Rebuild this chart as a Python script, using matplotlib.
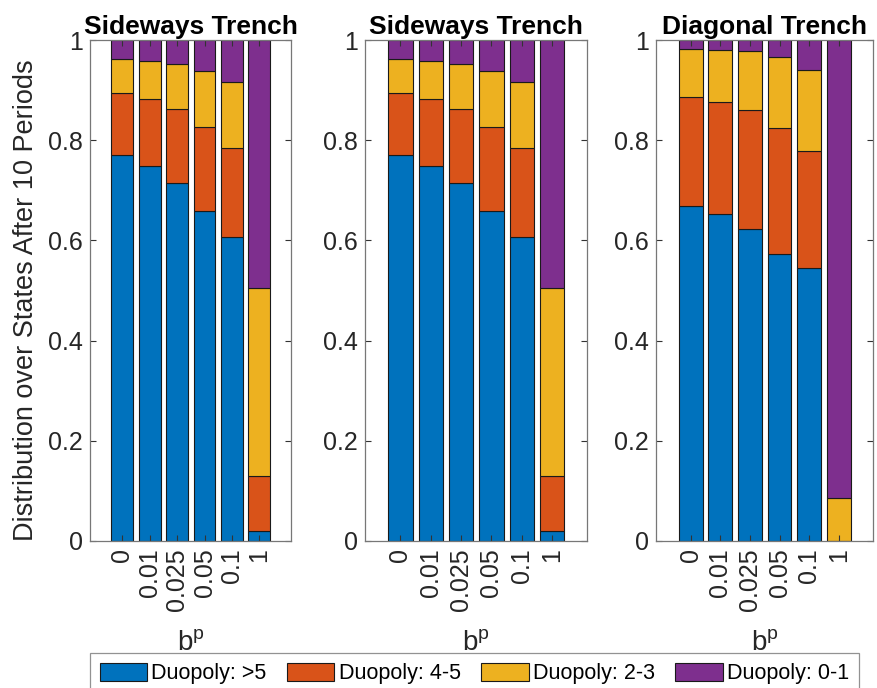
import matplotlib
matplotlib.use("Agg")
import matplotlib.pyplot as plt
import numpy as np

plt.rcParams['font.family'] = ['Liberation Sans', 'DejaVu Sans']

bp_labels = ['0', '0.01', '0.025', '0.05', '0.1', '1']
titles = ['Sideways Trench', 'Sideways Trench', 'Diagonal Trench']
series_names = ['Duopoly: >5', 'Duopoly: 4-5', 'Duopoly: 2-3', 'Duopoly: 0-1']
colors = ['#0072BD', '#D95319', '#EDB120', '#7E2F8E']

# shares per b^p value, one list per state group
side_gt5 = [0.770, 0.748, 0.714, 0.659, 0.606, 0.019]
side_45 = [0.124, 0.134, 0.148, 0.168, 0.179, 0.110]
side_23 = [0.069, 0.077, 0.090, 0.112, 0.131, 0.375]
side_01 = [0.037, 0.041, 0.048, 0.061, 0.084, 0.496]

diag_gt5 = [0.669, 0.652, 0.623, 0.573, 0.544, 0.000]
diag_45 = [0.217, 0.225, 0.237, 0.252, 0.234, 0.000]
diag_23 = [0.097, 0.104, 0.118, 0.142, 0.162, 0.085]
diag_01 = [0.017, 0.019, 0.022, 0.033, 0.060, 0.915]

panels = [
    [side_gt5, side_45, side_23, side_01],
    [side_gt5, side_45, side_23, side_01],
    [diag_gt5, diag_45, diag_23, diag_01],
]

W, H = 878, 688
fig = plt.figure(figsize=(W / 100, H / 100), dpi=100)

# axes boxes in pixels: left, right
boxes = [(90, 291), (365, 587), (656, 873)]
top, bottom = 40, 541

x = np.arange(1, 7)
handles = None
for i, (l, r) in enumerate(boxes):
    ax = fig.add_axes([l / W, 1 - bottom / H, (r - l) / W, (bottom - top) / H])
    base = np.zeros(6)
    hs = []
    for vals, c, name in zip(panels[i], colors, series_names):
        v = np.array(vals)
        h = ax.bar(x, v, width=0.8, bottom=base, color=c, edgecolor='#1a1a1a',
                   linewidth=0.8, label=name)
        base += v
        hs.append(h)
    if handles is None:
        handles = hs
    ax.set_xlim(-0.17, 7.15)
    ax.set_ylim(0, 1)
    ax.set_xticks(x)
    ax.set_xticklabels(bp_labels, rotation=90, fontsize=18)
    ax.set_yticks([0, 0.2, 0.4, 0.6, 0.8, 1])
    ax.set_yticklabels(['0', '0.2', '0.4', '0.6', '0.8', '1'], fontsize=18)
    ax.tick_params(direction='in', top=True, right=True, length=4, pad=5,
                   color='#333333', labelcolor='#262626')
    for s in ax.spines.values():
        s.set_color('#777777')
        s.set_linewidth(0.9)
    ax.set_title(titles[i], fontsize=19, fontweight='bold', pad=4)
    ax.set_xlabel('b$^\\mathregular{p}$', fontsize=20, color='#262626', labelpad=15)
    if i == 0:
        ax.set_ylabel('Distribution over States After 10 Periods', fontsize=19.5,
                      color='#262626')
        ax.yaxis.set_label_coords(-0.255, 0.48)

leg = fig.legend(handles, series_names, loc='lower left', ncol=4,
                 bbox_to_anchor=(90 / W, -6 / H),
                 fontsize=15.5, frameon=True, fancybox=False,
                 handlelength=2.2, handleheight=0.95, handletextpad=0.2,
                 columnspacing=0.95, borderpad=0.45, borderaxespad=0)
leg.get_frame().set_edgecolor('#777777')
leg.get_frame().set_linewidth(0.9)

fig.savefig('out.png', dpi=100)
